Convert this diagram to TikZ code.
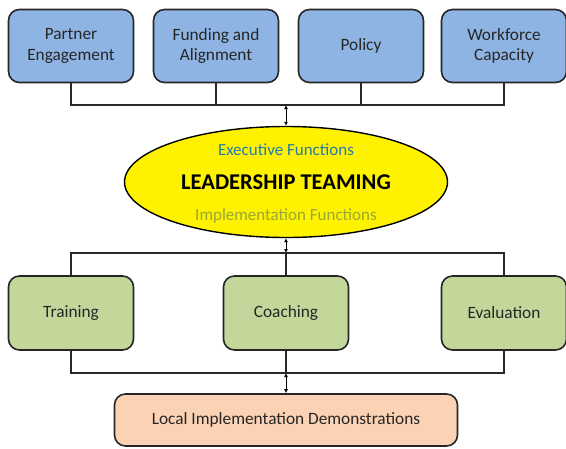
\documentclass[tikz,border=0pt]{standalone}
\usepackage{fontspec}
\setmainfont{Carlito}
\usetikzlibrary{shapes.geometric,arrows.meta}
\definecolor{boxblue}{RGB}{142,180,227}
\definecolor{boxgreen}{RGB}{196,215,155}
\definecolor{boxpeach}{RGB}{251,210,180}
\definecolor{exec}{RGB}{35,125,165}
\definecolor{impl}{RGB}{150,168,55}
\definecolor{linec}{RGB}{40,40,40}
\tikzset{
  card/.style={draw=black!85, line width=1.6pt, rounded corners=11pt, inner sep=0pt, align=center, font=\fontsize{17.3}{20.5}\selectfont, text=black!85},
  bluebox/.style={card, fill=boxblue, minimum width=125pt, minimum height=73pt},
  greenbox/.style={card, fill=boxgreen, minimum width=125pt, minimum height=74pt},
  peachbox/.style={card, fill=boxpeach, minimum width=343pt, minimum height=52pt},
  bus/.style={draw=linec, line width=1.6pt},
  link/.style={draw=black, line width=0.9pt, {Latex[length=4pt,width=4pt]}-{Latex[length=4pt,width=4pt]}},
}
\begin{document}
\begin{tikzpicture}[x=1pt,y=-1pt]
\useasboundingbox (0,0) rectangle (566,448);
% top boxes
\node[bluebox] (pe) at (71,46) {Partner\\Engagement};
\node[bluebox] (fa) at (216,46) {Funding and\\Alignment};
\node[bluebox] (po) at (361,46) {Policy};
\node[bluebox] (wc) at (504,46) {Workforce\\Capacity};
% ellipse
\node[ellipse, draw=black, line width=1.4pt, fill=yellow, minimum width=323pt, minimum height=111pt, inner sep=0pt] (lt) at (286,182) {};
\node[text=exec, font=\fontsize{17}{20}\selectfont] (ef) at (286,150) {Executive Functions};
\node[text=black, font=\fontsize{22.5}{26}\bfseries\selectfont] (ltt) at (286,182) {LEADERSHIP TEAMING};
\node[text=impl, font=\fontsize{17}{20}\selectfont] (if) at (286,215.5) {Implementation Functions};
% middle boxes
\node[greenbox] (tr) at (71,313) {Training};
\node[greenbox] (co) at (286,313) {Coaching};
\node[greenbox] (ev) at (504,313) {Evaluation};
% bottom box
\node[peachbox] (lid) at (286,420) {Local Implementation Demonstrations};
% bus coordinates
\coordinate (tb) at (286,105);
\coordinate (mb) at (286,253);
\coordinate (bb) at (286,373);
% top bus
\draw[bus] (pe.south) |- (tb);
\draw[bus] (wc.south) |- (tb);
\draw[bus] (fa.south) -- (fa.south |- tb);
\draw[bus] (po.south) -- (po.south |- tb);
\draw[link] (tb) -- (lt.north);
% middle bus
\draw[bus] (tr.north) |- (mb);
\draw[bus] (ev.north) |- (mb);
\draw[bus] (co.north) -- (mb);
\draw[link] (lt.south) -- (mb);
% bottom bus
\draw[bus] (tr.south) |- (bb);
\draw[bus] (ev.south) |- (bb);
\draw[bus] (co.south) -- (bb);
\draw[link] (bb) -- (lid.north);
\end{tikzpicture}
\end{document}
